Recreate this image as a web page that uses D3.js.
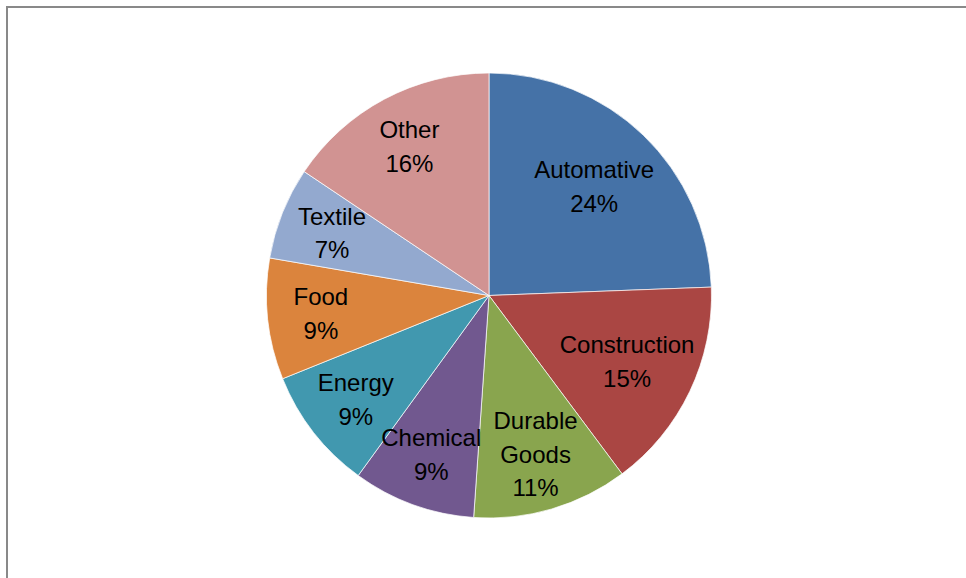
<!DOCTYPE html>
<html>
<head>
<meta charset="utf-8">
<script src="https://cdn.jsdelivr.net/npm/d3@7"></script>
<style>
  body { margin: 0; background: #fff; }
  svg { display: block; }
  text { font-family: "Liberation Sans", Arial, sans-serif; fill: #000; }
</style>
</head>
<body>
<div id="chart"></div>
<script>
// slice data, clockwise from 12 o'clock
const categories = ['Automative', 'Construction', 'Durable Goods', 'Chemical', 'Energy', 'Food', 'Textile', 'Other'];
const shares = [24.4, 15.4, 11.3, 8.9, 8.9, 8.8, 6.7, 15.6];
const colors = ['#4572A7', '#AA4643', '#89A54E', '#71588F', '#4198AF', '#DB843D', '#93A9CF', '#D19392'];

const width = 966, height = 578;
const cx = 489, cy = 295.5, radius = 222.5;
const fontSize = 24, lineH = 33.5;

const data = categories.map((c, i) => ({ name: c, value: shares[i], color: colors[i] }));

const svg = d3.select('#chart').append('svg')
  .attr('width', width)
  .attr('height', height);

// chart area frame (runs off the right and bottom edges)
svg.append('rect')
  .attr('x', 7).attr('y', 7)
  .attr('width', 1200).attr('height', 1200)
  .attr('fill', 'none')
  .attr('stroke', '#898989')
  .attr('stroke-width', 2);

const pie = d3.pie().sort(null).value(d => d.value);
const arc = d3.arc().innerRadius(0).outerRadius(radius);
const arcs = pie(data);

const g = svg.append('g').attr('transform', `translate(${cx},${cy})`);

g.selectAll('path.slice')
  .data(arcs)
  .enter().append('path')
  .attr('class', 'slice')
  .attr('d', arc)
  .attr('fill', d => d.data.color)
  .attr('stroke', '#fff')
  .attr('stroke-width', 0.7);

const total = d3.sum(shares);

// labels sit on the mid angle, at most 0.76 R out, pulled in if they poke out of the pie
const labels = g.selectAll('g.label')
  .data(arcs)
  .enter().append('g')
  .attr('class', 'label');

labels.each(function (d) {
  const lines = d.data.name.split(' ').concat([Math.round(d.data.value / total * 100) + '%']);
  const sel = d3.select(this);
  const texts = lines.map(t => sel.append('text')
    .attr('text-anchor', 'middle')
    .attr('font-size', fontSize)
    .text(t));
  const widths = texts.map(t => t.node().getComputedTextLength());
  const n = lines.length;
  const hh = fontSize * 0.45;
  const pad = 8;
  const mid = (d.startAngle + d.endAngle) / 2;

  function fits(x, y) {
    for (let i = 0; i < n; i++) {
      const yc = y + (i - (n - 1) / 2) * lineH;
      const w = widths[i] / 2;
      const pts = [[x - w, yc - hh], [x + w, yc - hh], [x - w, yc + hh], [x + w, yc + hh]];
      for (const p of pts) {
        if (Math.hypot(p[0], p[1]) > radius - pad) return false;
      }
    }
    return true;
  }

  let pos = [0, 0];
  for (let r = radius * 0.76; r > 0; r -= 0.5) {
    const x = r * Math.sin(mid), y = -r * Math.cos(mid);
    if (fits(x, y)) { pos = [x, y]; break; }
  }

  texts.forEach((t, i) => {
    t.attr('x', pos[0])
      .attr('y', pos[1] + (i - (n - 1) / 2) * lineH)
      .attr('dy', '0.36em');
  });
});
</script>
</body>
</html>
